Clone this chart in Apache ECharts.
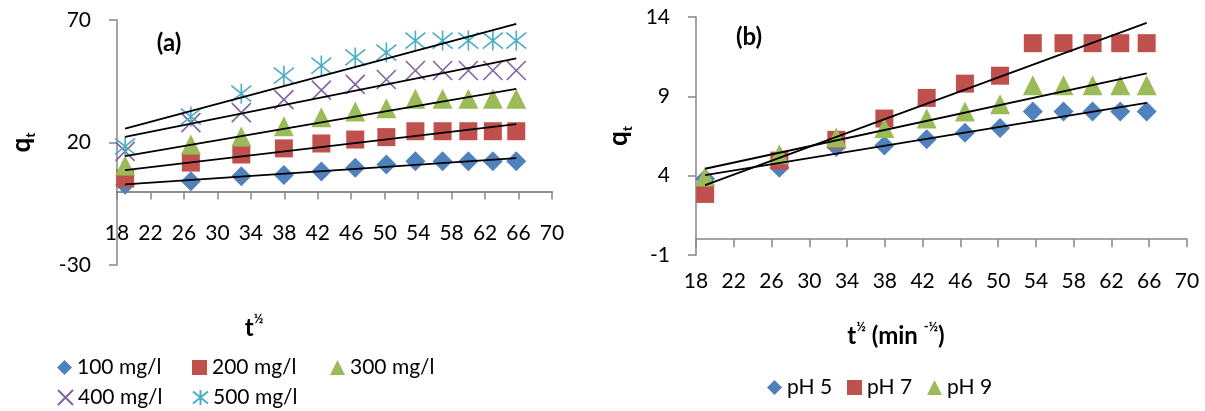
<!DOCTYPE html>
<html>
<head>
<meta charset="utf-8">
<script src="https://cdn.jsdelivr.net/npm/echarts@6/dist/echarts.min.js"></script>
<style>
html, body { margin: 0; padding: 0; background: #fff; }
#chart { width: 1205px; height: 411px; }
</style>
</head>
<body>
<div id="chart"></div>
<script>
// x values (square root of time)
var sqrtT = [18.97, 26.83, 32.86, 37.95, 42.43, 46.48, 50.20, 53.67, 56.92, 60.00, 62.93, 65.73];
var xTicks = [18, 22, 26, 30, 34, 38, 42, 46, 50, 54, 58, 62, 66, 70];
var yTicksA = [-30, 20, 70];
var yTicksB = [-1, 4, 9, 14];

// panel (a): initial concentration
var conc100 = [2.8, 4.2, 6.2, 6.7, 8.2, 9.7, 11.0, 12.3, 12.3, 12.3, 12.3, 12.3];
var conc200 = [5.3, 11.8, 15.1, 17.6, 19.6, 21.2, 22.2, 24.6, 24.6, 24.6, 24.6, 24.6];
var conc300 = [10.6, 19.2, 22.5, 26.6, 30.3, 32.7, 34.0, 37.9, 37.9, 37.9, 37.9, 37.9];
var conc400 = [16.4, 28.1, 32.2, 37.5, 41.4, 43.7, 45.7, 49.4, 49.4, 49.4, 49.4, 49.4];
var conc500 = [18.4, 30.6, 39.9, 47.3, 51.4, 54.7, 56.7, 61.6, 61.6, 61.6, 61.6, 61.6];

// panel (b): pH
var ph5 = [3.8, 4.5, 5.8, 5.9, 6.3, 6.7, 7.0, 8.05, 8.05, 8.05, 8.05, 8.05];
var ph7 = [2.85, 4.95, 6.26, 7.6, 8.9, 9.8, 10.3, 12.35, 12.35, 12.35, 12.35, 12.35];
var ph9 = [3.95, 5.35, 6.4, 7.0, 7.6, 8.05, 8.5, 9.7, 9.7, 9.7, 9.7, 9.7];

var FONT = 'Lato';
var AXIS_GREY = '#868686';
var SYM_X = 'path://M0,0L10,10M10,0L0,10';
var SYM_STAR = 'path://M0,1L10,9M10,1L0,9M5,0L5,10';

var gridA = { left: 117, top: 20, width: 435, height: 245 };
var gridB = { left: 696, top: 17, width: 491, height: 238 };

function pts(xs, ys) {
    return xs.map(function(x, i) { return [x, ys[i]]; });
}

// linear trendline (least squares), first to last x
function fit(xs, ys) {
    var n = xs.length, mx = 0, my = 0;
    for (var i = 0; i < n; i++) { mx += xs[i]; my += ys[i]; }
    mx /= n; my /= n;
    var sxy = 0, sxx = 0;
    for (var j = 0; j < n; j++) {
        sxy += (xs[j] - mx) * (ys[j] - my);
        sxx += (xs[j] - mx) * (xs[j] - mx);
    }
    var b = sxy / sxx, a = my - b * mx;
    return [[xs[0], a + b * xs[0]], [xs[n - 1], a + b * xs[n - 1]]];
}

// x axis crosses the y axis at 0: shift it up from the grid bottom
function xAxisFor(grid, g, ymin, ymax, margin) {
    return {
        gridIndex: grid, type: 'value', min: 18, max: 70, position: 'bottom',
        offset: -g.height * (0 - ymin) / (ymax - ymin),
        axisLine: { show: true, onZero: false, lineStyle: { color: AXIS_GREY, width: 1.5 } },
        axisTick: { show: true, length: 8, customValues: xTicks, lineStyle: { color: AXIS_GREY, width: 1.5 } },
        axisLabel: { customValues: xTicks, margin: margin, color: '#000', fontSize: 21, fontFamily: FONT },
        splitLine: { show: false }
    };
}

// same zero line drawn from the top side, ticks pointing down (line and ticks only)
function zeroLineFromTop(grid, g, ymin, ymax) {
    return {
        gridIndex: grid, type: 'value', min: 18, max: 70, position: 'top',
        offset: -g.height * (ymax - 0) / (ymax - ymin),
        axisLine: { show: true, onZero: false, lineStyle: { color: AXIS_GREY, width: 1.5 } },
        axisTick: { show: true, inside: true, length: 8, customValues: xTicks, lineStyle: { color: AXIS_GREY, width: 1.5 } },
        axisLabel: { show: false },
        splitLine: { show: false }
    };
}

function yAxisFor(grid, min, max, ticks, gap) {
    return {
        gridIndex: grid, type: 'value', min: min, max: max,
        axisLine: { show: true, lineStyle: { color: AXIS_GREY, width: 1.5 } },
        axisTick: { show: true, length: 8, customValues: ticks, lineStyle: { color: AXIS_GREY, width: 1.5 } },
        axisLabel: { customValues: ticks, margin: 26, color: '#000', fontSize: 21, fontFamily: FONT },
        splitLine: { show: false },
        name: '{q|q}{s|t}', nameLocation: 'middle', nameGap: gap, nameRotate: 90,
        nameTextStyle: {
            rich: {
                q: { fontSize: 26, fontWeight: 'bold', fontFamily: FONT, color: '#000', lineHeight: 30, verticalAlign: 'middle' },
                s: { fontSize: 14, fontWeight: 'bold', fontFamily: FONT, color: '#000', lineHeight: 30, verticalAlign: 'bottom' }
            }
        }
    };
}

function scatter(name, ax, ys, symbol, size, color, stroke) {
    var s = {
        type: 'scatter', name: name, xAxisIndex: ax, yAxisIndex: ax,
        data: pts(sqrtT, ys), symbol: symbol, symbolSize: size,
        itemStyle: { color: color, opacity: 1 }
    };
    if (stroke) {
        s.itemStyle = { color: 'transparent', borderColor: color, borderWidth: 1.6, opacity: 1 };
    }
    return s;
}

function trend(ax, ys) {
    return {
        type: 'line', xAxisIndex: ax, yAxisIndex: ax, data: fit(sqrtT, ys),
        symbol: 'none', z: 10, silent: true,
        lineStyle: { color: '#000', width: 1.8 }
    };
}

// one legend entry per component so columns sit where the reference has them
function legendFor(name, left, top) {
    return {
        data: [name], left: left, top: top,
        itemWidth: 15, itemHeight: 15,
        textStyle: { fontSize: 21, fontFamily: FONT, color: '#000' }
    };
}

var boldRich = function(size) {
    return { fontSize: size, fontWeight: 'bold', fontFamily: FONT, fill: '#000', lineHeight: 28, verticalAlign: 'bottom' };
};
var supRich = { fontSize: 13, fontWeight: 'bold', fontFamily: FONT, fill: '#000', lineHeight: 28, verticalAlign: 'top' };

var myChart = echarts.init(document.getElementById('chart'));
var option = {
    animation: false,
    backgroundColor: '#fff',
    grid: [gridA, gridB],
    xAxis: [
        xAxisFor(0, gridA, -30, 70, 31),
        xAxisFor(1, gridB, -1, 14, 32),
        zeroLineFromTop(0, gridA, -30, 70)
    ],
    yAxis: [yAxisFor(0, -30, 70, yTicksA, 80), yAxisFor(1, -1, 14, yTicksB, 62)],
    legend: [
        legendFor('100 mg/l', 52, 352),
        legendFor('200 mg/l', 187, 352),
        legendFor('300 mg/l', 325, 352),
        legendFor('400 mg/l', 52, 382),
        legendFor('500 mg/l', 187, 382),
        legendFor('pH 5', 762, 372),
        legendFor('pH 7', 842, 372),
        legendFor('pH 9', 922, 372)
    ],
    graphic: [
        { type: 'text', x: 169, y: 43, style: { text: '(a)', font: 'bold 24px Lato', fill: '#000', align: 'center', verticalAlign: 'middle' } },
        { type: 'text', x: 749, y: 37, style: { text: '(b)', font: 'bold 24px Lato', fill: '#000', align: 'center', verticalAlign: 'middle' } },
        {
            type: 'text', x: 254, y: 326,
            style: {
                text: '{t|t}{h|½}', align: 'center', verticalAlign: 'middle',
                rich: { t: boldRich(24), h: supRich }
            }
        },
        {
            type: 'text', x: 896, y: 334,
            style: {
                text: '{t|t}{h|½}{n| (min }{h|-½}{n|)}', align: 'center', verticalAlign: 'middle',
                rich: { t: boldRich(24), n: boldRich(24), h: supRich }
            }
        }
    ],
    series: [
        scatter('100 mg/l', 0, conc100, 'diamond', 20, '#4F81BD'),
        scatter('200 mg/l', 0, conc200, 'rect', 18, '#C0504D'),
        scatter('300 mg/l', 0, conc300, 'triangle', 20, '#9BBB59'),
        scatter('400 mg/l', 0, conc400, SYM_X, 19, '#8064A2', true),
        scatter('500 mg/l', 0, conc500, SYM_STAR, 20, '#4BACC6', true),
        trend(0, conc100), trend(0, conc200), trend(0, conc300), trend(0, conc400), trend(0, conc500),
        scatter('pH 5', 1, ph5, 'diamond', 20, '#4F81BD'),
        scatter('pH 7', 1, ph7, 'rect', 18, '#C0504D'),
        scatter('pH 9', 1, ph9, 'triangle', 20, '#9BBB59'),
        trend(1, ph5), trend(1, ph7), trend(1, ph9)
    ]
};
myChart.setOption(option);
</script>
</body>
</html>
